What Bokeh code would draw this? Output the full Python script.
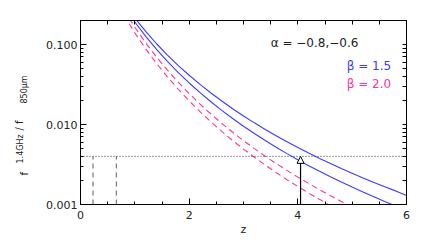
import numpy as np
from bokeh.plotting import figure
from bokeh.models import (Range1d, LogAxis, LinearAxis, FixedTicker,
                          PrintfTickFormatter, Label, Arrow, NormalHead)
from bokeh.embed import file_html
from bokeh.resources import INLINE

# ---- data ----
z_blue = [0.8, 1.0, 1.2, 1.4, 1.6, 1.8, 2.0, 2.2, 2.4, 2.6, 2.8, 3.0, 3.2,
          3.4, 3.6, 3.8, 4.0, 4.2, 4.4, 4.6, 4.8, 5.0, 5.2, 5.4, 5.6, 5.8, 6.0]
# beta = 1.5, alpha = -0.6 (upper) and alpha = -0.8 (lower)
blue_upper = [0.330, 0.2150, 0.1459, 0.1024, 0.0739, 0.0546, 0.0413, 0.03176,
              0.02480, 0.01966, 0.01577, 0.01279, 0.01050, 0.00868, 0.00724,
              0.00610, 0.00516, 0.00440, 0.00377, 0.00325, 0.00282, 0.00246,
              0.00215, 0.00189, 0.00167, 0.00148, 0.00130]
blue_lower = [0.3024, 0.1917, 0.1269, 0.0870, 0.0615, 0.0446, 0.0331, 0.02506,
              0.01926, 0.01504, 0.01190, 0.00953, 0.00772, 0.00630, 0.00520,
              0.00433, 0.00362, 0.00306, 0.00260, 0.00222, 0.00191, 0.00165,
              0.00143, 0.00125, 0.00109, 0.000958, 0.000845]

z_pink = [0.8, 1.0, 1.2, 1.4, 1.6, 1.8, 2.0, 2.2, 2.4, 2.6, 2.8, 3.0, 3.2,
          3.4, 3.6, 3.8, 4.0, 4.2, 4.4, 4.6, 4.8, 5.0]
# beta = 2.0, alpha = -0.6 (upper) and alpha = -0.8 (lower)
pink_upper = [0.2703, 0.1646, 0.1051, 0.0698, 0.0478, 0.0337, 0.0244, 0.0180,
              0.01352, 0.01033, 0.00800, 0.00629, 0.00500, 0.00401, 0.00325,
              0.00267, 0.00220, 0.00183, 0.00153, 0.00129, 0.00109, 0.000931]
pink_lower = [0.2331, 0.1402, 0.0885, 0.0581, 0.0395, 0.02759, 0.01979,
              0.01449, 0.01080, 0.00820, 0.00631, 0.00493, 0.00390, 0.00311,
              0.00251, 0.00204, 0.00168, 0.00139, 0.00116, 0.000970, 0.000819,
              0.000695]

ratio_limit = 0.0040          # dotted horizontal line
low_z_sources = [0.23, 0.66]  # grey dashed verticals
arrow_z = 4.05                # upward arrow

x_ticks = [0, 2, 4, 6]
y_ticks = [0.001, 0.01, 0.1]

BLUE = "#3a3aff"
PINK = "#ff3399"
FONT = "DejaVu Sans"
TXT = "#222222"

p = figure(width=431, height=245, output_backend="svg", toolbar_location=None,
           y_axis_type="log", x_range=Range1d(0, 6), y_range=Range1d(0.001, 0.2),
           min_border_left=80, min_border_right=25, min_border_top=20,
           min_border_bottom=41)
p.grid.visible = False
p.outline_line_color = "black"
p.background_fill_color = "white"
p.border_fill_color = "white"

# curves
p.line(z_blue, blue_upper, line_color=BLUE, line_width=1.1)
p.line(z_blue, blue_lower, line_color=BLUE, line_width=1.1)
p.line(z_pink, pink_upper, line_color=PINK, line_width=1.1, line_dash="6 4")
p.line(z_pink, pink_lower, line_color=PINK, line_width=1.1, line_dash="6 4")

# limits
p.line([0, 6], [ratio_limit, ratio_limit], line_color="#333333",
       line_dash="1 2", line_width=1)
for zz in low_z_sources:
    p.line([zz, zz], [0.001, ratio_limit], line_color="#777777",
           line_dash="5 4", line_width=1.2)
p.add_layout(Arrow(end=NormalHead(size=7, fill_color="white",
                                  line_color="black", line_width=1),
                   x_start=arrow_z, y_start=0.001, x_end=arrow_z,
                   y_end=ratio_limit, line_color="black", line_width=1.2))

# axes styling
minor_x = [v * 0.5 for v in range(0, 13)]
minor_y = [m * 10.0 ** e for e in (-3, -2, -1) for m in range(2, 10)
           if m * 10.0 ** e <= 0.2]

xa = p.xaxis[0]
xa.ticker = FixedTicker(ticks=x_ticks, minor_ticks=minor_x)
xa.axis_label = "z"
xa.axis_label_text_font = FONT
xa.axis_label_text_font_size = "11px"
xa.axis_label_text_font_style = "normal"
xa.axis_label_text_color = TXT
xa.axis_label_standoff = 1
ya = p.yaxis[0]
ya.ticker = FixedTicker(ticks=y_ticks, minor_ticks=minor_y)
ya.formatter = PrintfTickFormatter(format="%.3f")

for ax in (xa, ya):
    ax.major_tick_in = 6
    ax.major_tick_out = 0
    ax.minor_tick_in = 3
    ax.minor_tick_out = 0
    ax.axis_line_color = "black"
    ax.major_tick_line_color = "black"
    ax.minor_tick_line_color = "black"
    ax.major_label_text_font = FONT
    ax.major_label_text_font_size = "11px"
    ax.major_label_text_color = TXT
xa.major_label_standoff = 6
ya.major_label_standoff = 3

top = LinearAxis(ticker=FixedTicker(ticks=[], minor_ticks=minor_x))
right = LogAxis(ticker=FixedTicker(ticks=[], minor_ticks=minor_y + y_ticks))
for ax in (top, right):
    ax.minor_tick_in = 4
    ax.minor_tick_out = 0
    ax.major_tick_in = 0
    ax.major_tick_out = 0
    ax.axis_line_color = "black"
p.add_layout(top, "above")
p.add_layout(right, "right")

# texts inside the frame
p.add_layout(Label(x=3.5, y=0.104, text="α = −0.8,−0.6", text_font=FONT,
                   text_font_size="12px", text_baseline="middle",
                   text_color=TXT))
p.add_layout(Label(x=4.9, y=0.0546, text="β = 1.5", text_font=FONT,
                   text_font_size="12px", text_baseline="middle",
                   text_color=BLUE))
p.add_layout(Label(x=4.9, y=0.0323, text="β = 2.0", text_font=FONT,
                   text_font_size="12px", text_baseline="middle",
                   text_color=PINK))

# rotated y title f_{1.4GHz} / f_{850μm} (left side panel, screen units)
rot = np.pi / 2
pieces = [("f", -8, 29, "10px"), ("1.4GHz", -3, 41, "8px"),
          ("/ f", 7, 74, "10px"), ("850μm", 21, 101, "8px")]
for txt, xx, yy, fs in pieces:
    p.add_layout(Label(x=xx, y=yy, x_units="screen", y_units="screen",
                       text=txt, angle=rot, text_font=FONT,
                       text_font_size=fs, text_color=TXT,
                       text_baseline="alphabetic"), "left")

open("out.html", "w").write(file_html(p, INLINE))
